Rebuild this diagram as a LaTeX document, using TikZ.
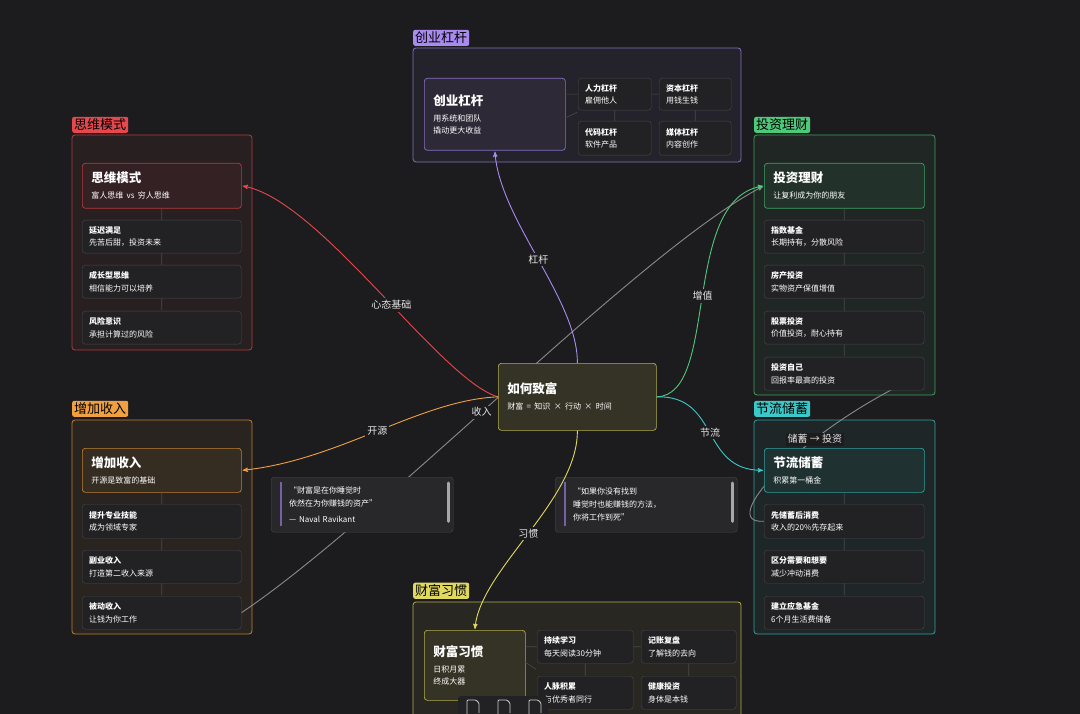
\documentclass[tikz,border=0pt]{standalone}
\usepackage{fontspec}
\setmainfont{Noto Sans CJK SC}
\usetikzlibrary{arrows}
\definecolor{bg}{HTML}{1C1C1E}
\definecolor{cred}{HTML}{E5484D}
\definecolor{cpur}{HTML}{A98BF0}
\definecolor{cgrn}{HTML}{4EC97A}
\definecolor{ccya}{HTML}{3CC8C8}
\definecolor{corg}{HTML}{F0A040}
\definecolor{cyel}{HTML}{E0D860}
\definecolor{boxfill}{HTML}{222224}
\definecolor{edgegray}{HTML}{8A8A8E}
\pgfdeclarelayer{frames}
\pgfdeclarelayer{edges}
\pgfsetlayers{frames,edges,main}
\tikzset{
  frame/.style={draw=#1!80!black, fill=#1!6!bg, rounded corners=3pt, line width=0.8pt},
  tag/.style={fill=#1, text=black, rounded corners=2pt, inner sep=2pt, font=\fontsize{13}{14}\selectfont, anchor=south west},
  mainbox/.style={draw=#1!80!black, fill=#1!12!bg, rounded corners=3pt, line width=0.7pt, anchor=north west,
    align=left, text=white, inner xsep=9pt, inner ysep=0pt},
  sub/.style={draw=gray!45!bg, fill=boxfill, rounded corners=3pt, anchor=north west, text=white,
    align=left, inner xsep=7pt, inner ysep=0pt, font=\fontsize{8}{12.5}\selectfont},
  link/.style={draw=gray!45!bg, line width=0.6pt},
  edge/.style={->, line width=0.9pt, draw=#1},
  elabel/.style={fill=bg, text=white!90!black, font=\fontsize{10}{12}\selectfont, inner sep=2pt},
}
\newcommand{\mtitle}[2]{{\fontsize{12.5}{16}\selectfont\bfseries #1}\\[4pt]{\fontsize{8}{12}\selectfont #2}}
\newcommand{\stext}[2]{{\bfseries #1}\\#2}
\begin{document}
\begin{tikzpicture}[x=1pt,y=-1pt,>=stealth',shorten >=1pt]
\useasboundingbox (0,0) rectangle (1080,714);

% groups
\begin{pgfonlayer}{frames}
\fill[bg] (0,0) rectangle (1080,714);
\draw[frame=cpur] (413,48) rectangle (741,162);
\draw[frame=cred] (72,135) rectangle (252,350);
\draw[frame=cgrn] (754,135) rectangle (935,395);
\draw[frame=corg] (72,420) rectangle (252,634);
\draw[frame=ccya] (754,420) rectangle (935,634);
\draw[frame=cyel] (413,602) rectangle (741,720);
\end{pgfonlayer}
\node[tag=cpur] at (413,46) {创业杠杆};
\node[tag=cred] at (72,133) {思维模式};
\node[tag=cgrn] at (754,133) {投资理财};
\node[tag=corg] at (72,417) {增加收入};
\node[tag=ccya] at (754,417) {节流储蓄};
\node[tag=cyel] at (413,599) {财富习惯};

% 创业杠杆
\node[mainbox=cpur, minimum width=141pt, minimum height=72pt, text width=123pt] (lev) at (424,78) {\mtitle{创业杠杆}{用系统和团队\\撬动更大收益}};
\node[sub, minimum width=73pt, minimum height=32pt, text width=59pt] (lev1) at (578,78) {\stext{人力杠杆}{雇佣他人}};
\node[sub, minimum width=72pt, minimum height=32pt, text width=58pt] (lev2) at (659,78) {\stext{资本杠杆}{用钱生钱}};
\node[sub, minimum width=73pt, minimum height=34pt, text width=59pt] (lev3) at (578,121) {\stext{代码杠杆}{软件产品}};
\node[sub, minimum width=72pt, minimum height=34pt, text width=58pt] (lev4) at (659,121) {\stext{媒体杠杆}{内容创作}};
\draw[link] (lev.east |- lev1.west) -- (lev1.west) (lev1) -- (lev2) (lev1) -- (lev3) (lev2) -- (lev4)
  (565,118) -- (578,112);

% 思维模式
\node[mainbox=cred, minimum width=159pt, minimum height=45pt, text width=141pt] (mind) at (82,163) {\mtitle{思维模式}{富人思维 vs 穷人思维}};
\node[sub, minimum width=159pt, minimum height=33pt, text width=145pt] (mind1) at (82,220) {\stext{延迟满足}{先苦后甜，投资未来}};
\node[sub, minimum width=159pt, minimum height=33pt, text width=145pt] (mind2) at (82,265) {\stext{成长型思维}{相信能力可以培养}};
\node[sub, minimum width=159pt, minimum height=33pt, text width=145pt] (mind3) at (82,311) {\stext{风险意识}{承担计算过的风险}};
\draw[link] (mind) -- (mind1) -- (mind2) -- (mind3);

% 投资理财
\node[mainbox=cgrn, minimum width=160pt, minimum height=45pt, text width=142pt] (inv) at (764,163) {\mtitle{投资理财}{让复利成为你的朋友}};
\node[sub, minimum width=160pt, minimum height=33pt, text width=146pt] (inv1) at (764,220) {\stext{指数基金}{长期持有，分散风险}};
\node[sub, minimum width=160pt, minimum height=33pt, text width=146pt] (inv2) at (764,265) {\stext{房产投资}{实物资产保值增值}};
\node[sub, minimum width=160pt, minimum height=33pt, text width=146pt] (inv3) at (764,311) {\stext{股票投资}{价值投资，耐心持有}};
\node[sub, minimum width=160pt, minimum height=33pt, text width=146pt] (inv4) at (764,357) {\stext{投资自己}{回报率最高的投资}};
\draw[link] (inv) -- (inv1) -- (inv2) -- (inv3) -- (inv4);

% 增加收入
\node[mainbox=corg, minimum width=159pt, minimum height=44pt, text width=141pt] (inc) at (82,448) {\mtitle{增加收入}{开源是致富的基础}};
\node[sub, minimum width=159pt, minimum height=34pt, text width=145pt] (inc1) at (82,504) {\stext{提升专业技能}{成为领域专家}};
\node[sub, minimum width=159pt, minimum height=33pt, text width=145pt] (inc2) at (82,550) {\stext{副业收入}{打造第二收入来源}};
\node[sub, minimum width=159pt, minimum height=33pt, text width=145pt] (inc3) at (82,596) {\stext{被动收入}{让钱为你工作}};
\draw[link] (inc) -- (inc1) -- (inc2) -- (inc3);

% 节流储蓄
\node[mainbox=ccya, minimum width=160pt, minimum height=44pt, text width=142pt] (sav) at (764,448) {\mtitle{节流储蓄}{积累第一桶金}};
\node[sub, minimum width=160pt, minimum height=34pt, text width=146pt] (sav1) at (764,504) {\stext{先储蓄后消费}{收入的20\%先存起来}};
\node[sub, minimum width=160pt, minimum height=33pt, text width=146pt] (sav2) at (764,550) {\stext{区分需要和想要}{减少冲动消费}};
\node[sub, minimum width=160pt, minimum height=33pt, text width=146pt] (sav3) at (764,596) {\stext{建立应急基金}{6个月生活费储备}};
\draw[link] (sav) -- (sav1) -- (sav2) -- (sav3);

% 财富习惯
\node[mainbox=cyel, minimum width=101pt, minimum height=70pt, text width=83pt] (hab) at (424,630) {\mtitle{财富习惯}{日积月累\\终成大器}};
\node[sub, minimum width=96pt, minimum height=33pt, text width=82pt] (hab1) at (537,630) {\stext{持续学习}{每天阅读30分钟}};
\node[sub, minimum width=95pt, minimum height=33pt, text width=81pt] (hab2) at (641,630) {\stext{记账复盘}{了解钱的去向}};
\node[sub, minimum width=96pt, minimum height=33pt, text width=82pt] (hab3) at (537,676) {\stext{人脉积累}{与优秀者同行}};
\node[sub, minimum width=95pt, minimum height=33pt, text width=81pt] (hab4) at (641,676) {\stext{健康投资}{身体是本钱}};
\draw[link] (hab.east |- hab1.west) -- (hab1.west) (hab1) -- (hab2) (hab1) -- (hab3) (hab2) -- (hab4)
  (525,662) -- (537,670);

% center
\node[mainbox=cyel, minimum width=158pt, minimum height=67pt, text width=140pt] (root) at (498,363) {\mtitle{如何致富}{财富 = 知识 × 行动 × 时间}};

% quotes
\node[sub, fill=gray!12!bg, minimum width=169pt, minimum height=55pt, text width=146pt, font=\fontsize{8}{13}\selectfont, inner xsep=18pt] (q1) at (271,477)
  {“财富是在你睡觉时\\依然在为你赚钱的资产”\\[3pt]— Naval Ravikant};
\node[sub, fill=gray!12!bg, minimum width=170pt, minimum height=55pt, text width=146pt, font=\fontsize{8}{13}\selectfont, inner xsep=18pt] (q2) at (555,477)
  {“如果你没有找到\\睡觉时也能赚钱的方法，\\你将工作到死”};
\foreach \q in {q1,q2}{
  \draw[cpur!70!black, line width=1.5pt] ([xshift=10pt,yshift=-5pt]\q.north west) -- ([xshift=10pt,yshift=5pt]\q.south west);
  \draw[gray!70, line width=3pt, line cap=round] ([xshift=-5pt,yshift=-6pt]\q.north east) -- ([xshift=-5pt,yshift=10pt]\q.south east);
}

% edges
\begin{pgfonlayer}{edges}
\draw[edge=edgegray] (inc3.east) .. controls (380,520) and (640,250) .. node[elabel, pos=0.455] {收入} (inv.west);
\draw[edge=edgegray] (sav1.west) .. controls (715,525) and (800,430) .. node[elabel, pos=0.66] {储蓄 → 投资} (inv4.east);
\end{pgfonlayer}
\draw[edge=cred] (root.west) .. controls (440,380) and (320,200) .. node[elabel, pos=0.45] {心态基础} (mind.east);
\draw[edge=corg] (root.west) .. controls (420,400) and (340,460) .. node[elabel, pos=0.5] {开源} (inc.east);
\draw[edge=cpur] (root.north) .. controls (578,300) and (500,220) .. node[elabel, pos=0.5] {杠杆} (lev.south);
\draw[edge=cgrn] (root.east) .. controls (720,395) and (680,200) .. node[elabel, pos=0.5] {增值} (inv.west);
\draw[edge=ccya] (root.east) .. controls (720,395) and (700,470) .. node[elabel, pos=0.5] {节流} (sav.west);
\draw[edge=cyel] (root.south) .. controls (578,500) and (480,570) .. node[elabel, pos=0.5] {习惯} (hab.north);

% toolbar
\fill[boxfill, rounded corners=3pt] (458,696) rectangle (548,720);
\foreach \x in {473,504,535}{
  \draw[white!80!black, line width=0.8pt, rounded corners=1pt] (\x-6,714) -- (\x-6,700) -- (\x+3,700) -- (\x+6,703) -- (\x+6,714);
}
\end{tikzpicture}
\end{document}
